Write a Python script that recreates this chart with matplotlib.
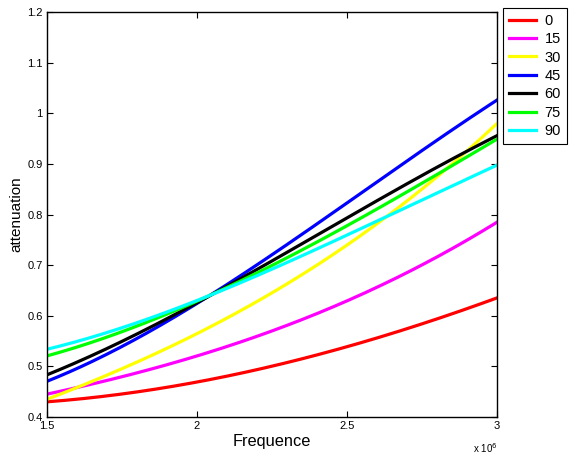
import matplotlib
matplotlib.use("Agg")
import matplotlib.pyplot as plt
from matplotlib.ticker import FuncFormatter
import numpy as np

plt.rcParams['font.family'] = ['Liberation Sans', 'DejaVu Sans']

# frequency samples (Hz)
freq = np.array([1.5e6, 1.75e6, 2.0e6, 2.25e6, 2.5e6, 2.75e6, 3.0e6])

# attenuation, one list per angle
att_0 = [0.430, 0.445, 0.470, 0.500, 0.538, 0.585, 0.635]
att_15 = [0.445, 0.480, 0.520, 0.570, 0.630, 0.700, 0.785]
att_30 = [0.435, 0.495, 0.565, 0.645, 0.740, 0.850, 0.980]
att_45 = [0.470, 0.540, 0.625, 0.720, 0.820, 0.930, 1.025]
att_60 = [0.483, 0.550, 0.625, 0.710, 0.790, 0.880, 0.955]
att_75 = [0.520, 0.570, 0.628, 0.700, 0.775, 0.865, 0.948]
att_90 = [0.533, 0.578, 0.630, 0.690, 0.760, 0.830, 0.897]

labels = ['0', '15', '30', '45', '60', '75', '90']
colors = ['#ff0000', '#ff00ff', '#ffff00', '#0000ff', '#000000', '#00ff00', '#00ffff']
series = [att_0, att_15, att_30, att_45, att_60, att_75, att_90]

fig = plt.figure(figsize=(5.72, 4.54), dpi=100)
ax = fig.add_axes([0.082, 0.0815, 0.787, 0.892])

xs = np.linspace(freq[0], freq[-1], 200)
for vals, col, lab in zip(series, colors, labels):
    coef = np.polyfit(freq / 1e6, vals, 3)
    ax.plot(xs, np.polyval(coef, xs / 1e6), color=col, lw=2.3, label=lab)

ax.set_xlim(1.5e6, 3e6)
ax.set_ylim(0.4, 1.2)
ax.set_xticks([1.5e6, 2e6, 2.5e6, 3e6])
ax.set_yticks(np.arange(0.4, 1.21, 0.1))
ax.xaxis.set_major_formatter(FuncFormatter(lambda v, p: '%g' % (v / 1e6)))
ax.yaxis.set_major_formatter(FuncFormatter(lambda v, p: '%g' % round(v, 1)))
ax.tick_params(direction='in', top=True, right=True, labelsize=8, length=4, pad=3)
for s in ax.spines.values():
    s.set_linewidth(1.0)

ax.set_xlabel('Frequence', fontsize=11.75, labelpad=2)
ax.set_ylabel('attenuation', fontsize=11, labelpad=3)
ax.text(1.0, -0.06, r'x 10$^6$', transform=ax.transAxes, ha='right', va='top', fontsize=7)

leg = ax.legend(loc='upper left', bbox_to_anchor=(1.0133, 1.01), fontsize=10.5,
                fancybox=False, edgecolor='black', framealpha=1, borderaxespad=0,
                handlelength=1.85, labelspacing=0.3, borderpad=0.4, handletextpad=0.6)
leg.get_frame().set_linewidth(0.8)

fig.savefig('out.png', dpi=100)
